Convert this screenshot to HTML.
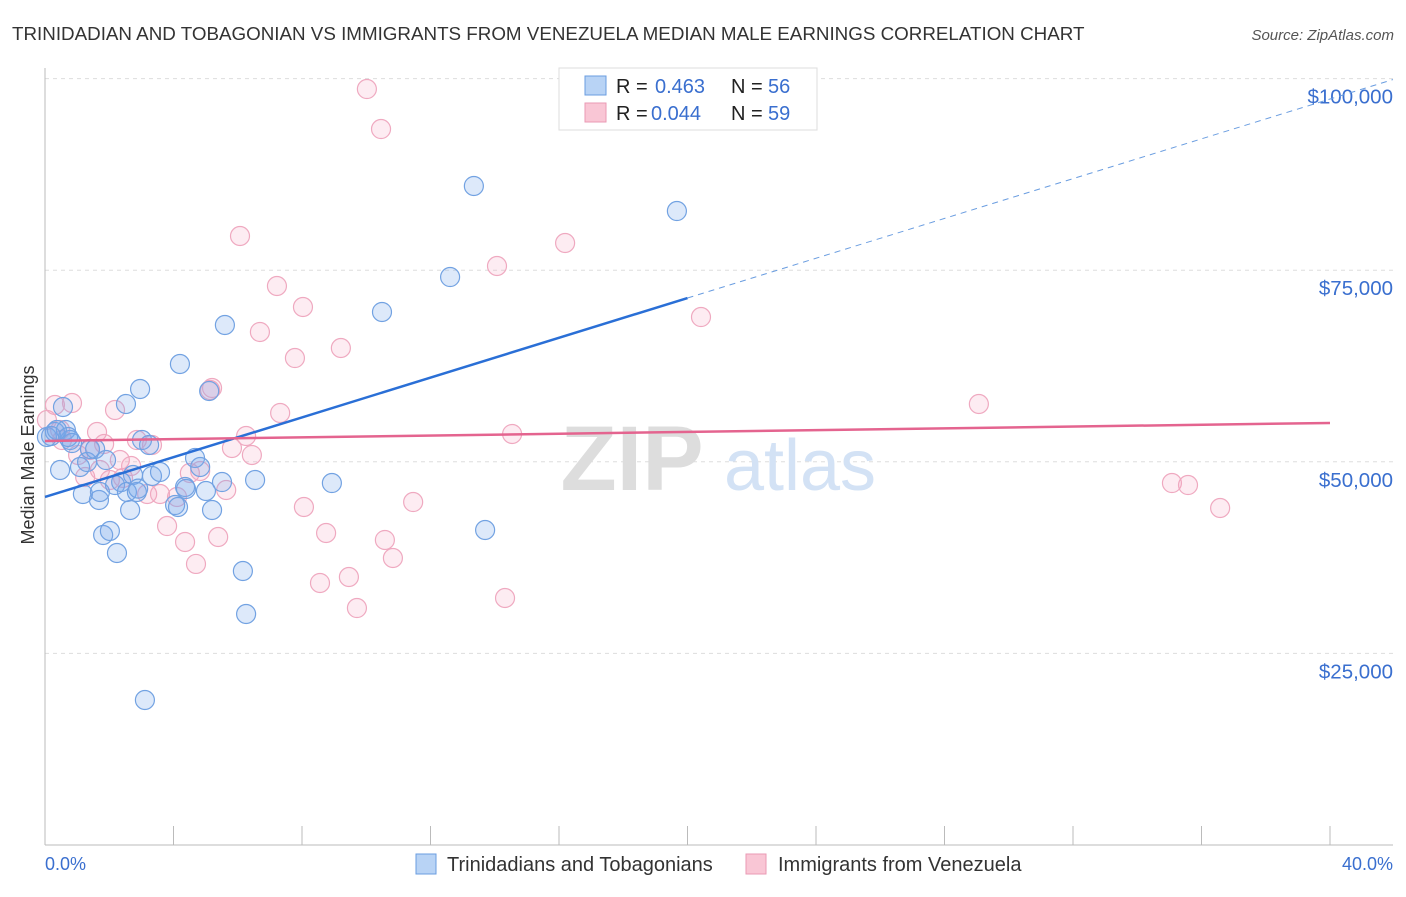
<!DOCTYPE html>
<html><head><meta charset="utf-8"><style>
body{margin:0;background:#fff;font-family:"Liberation Sans",sans-serif;}
svg text{font-family:"Liberation Sans",sans-serif;}
</style></head><body>
<svg id="chart" width="1406" height="892" viewBox="0 0 1406 892" xmlns="http://www.w3.org/2000/svg">
<text x="12" y="40" font-size="18.8" fill="#333">TRINIDADIAN AND TOBAGONIAN VS IMMIGRANTS FROM VENEZUELA MEDIAN MALE EARNINGS CORRELATION CHART</text>
<text x="1394" y="40" font-size="15" fill="#555" font-style="italic" text-anchor="end">Source: ZipAtlas.com</text>
<g id="grid"></g>
<g>
<text x="632" y="490" font-size="92" fill="#ddd" font-family="Liberation Serif" text-anchor="middle" font-weight="bold">ZIP</text>
<text x="800" y="490" font-size="72" fill="#d3e2f5" text-anchor="middle">atlas</text>
</g>
<line x1="45" y1="68" x2="45" y2="845" stroke="#bbb" stroke-width="1"/>
<line x1="45" y1="845" x2="1393" y2="845" stroke="#bbb" stroke-width="1"/>
<g id="xticks"></g>
<g id="ylabels"></g>
<text transform="translate(34,455) rotate(-90)" font-size="18" fill="#333" text-anchor="middle">Median Male Earnings</text>
<text x="45" y="870" font-size="18" fill="#3a6fcf">0.0%</text>
<text x="1393" y="870" font-size="18" fill="#3a6fcf" text-anchor="end">40.0%</text>
<g id="pink"></g>
<g id="blue"></g>
<g id="trends"></g>
<g>
<rect x="559" y="68" width="258" height="62" fill="#fff" stroke="#ddd"/>
<rect x="585" y="76" width="21" height="19" fill="#b8d3f5" stroke="#6a9de0"/>
<rect x="585" y="103" width="21" height="19" fill="#f9c6d5" stroke="#ea9ab4"/>
<text x="616" y="93" font-size="20" fill="#222">R = </text><text x="655" y="93" font-size="20" fill="#3a6fcf">0.463</text>
<text x="731" y="93" font-size="20" fill="#222">N = </text><text x="768" y="93" font-size="20" fill="#3a6fcf">56</text>
<text x="616" y="120" font-size="20" fill="#222">R = </text><text x="651" y="120" font-size="20" fill="#3a6fcf">0.044</text>
<text x="731" y="120" font-size="20" fill="#222">N = </text><text x="768" y="120" font-size="20" fill="#3a6fcf">59</text>
</g>
<g>
<rect x="416" y="854" width="20" height="20" fill="#b8d3f5" stroke="#6a9de0"/>
<text x="447" y="871" font-size="20" fill="#333">Trinidadians and Tobagonians</text>
<rect x="746" y="854" width="20" height="20" fill="#f9c6d5" stroke="#ea9ab4"/>
<text x="778" y="871" font-size="20" fill="#333">Immigrants from Venezuela</text>
</g>
</svg>
<script>
const yTicks=[25000,50000,75000,100000];
const yTickLabels=["$25,000","$50,000","$75,000","$100,000"];
const blueX=[0.06,0.31,0.47,0.56,0.65,0.78,0.84,1.09,1.18,1.31,1.40,1.56,1.68,1.71,1.81,1.90,2.02,2.18,2.24,2.37,2.52,2.55,2.65,2.74,2.86,2.96,3.02,3.11,3.24,3.33,3.58,4.05,4.14,4.20,4.36,4.39,4.67,4.83,5.01,5.11,5.20,5.51,5.60,6.16,6.26,6.54,8.93,10.49,12.61,13.35,13.70,19.67,0.19,0.37,0.72,2.9];
const blueY=[53240,53890,48930,57150,54150,52840,52450,49320,45800,49970,51670,51670,45020,46060,40450,50230,40970,46970,38100,47360,57540,46060,43710,48280,46060,59500,52840,18920,52190,48150,48670,44360,44100,62760,46710,46450,50500,49320,46190,59240,43710,47360,67850,35750,30140,47630,47230,69550,74110,85990,41100,82720,53370,54150,53240,46500];
const pinkX=[0.06,0.31,0.53,0.84,1.03,1.25,1.40,1.62,1.71,1.84,2.02,2.18,2.33,2.43,2.68,2.86,3.18,3.33,3.58,3.80,4.11,4.36,4.51,4.70,4.83,5.14,5.20,5.39,5.64,5.82,6.07,6.26,6.44,6.69,7.22,7.32,7.78,8.03,8.06,8.75,8.56,9.21,9.46,9.71,10.02,10.46,10.58,10.83,11.46,14.07,14.32,14.54,16.19,20.42,29.07,35.08,35.58,36.58,0.47];
const pinkY=[55450,57410,52840,57670,50890,48020,51540,53890,48930,52320,47630,56760,50230,47890,49450,52840,45800,52190,45800,41620,45410,39540,48540,36670,48800,59370,59630,40190,46320,51800,79460,53370,50890,66940,72940,56370,63540,70200,44100,40710,34190,64850,34970,30920,98640,93420,39800,37450,44750,75550,32230,53630,78550,68890,57540,47230,46970,43970,54150];
const blueTrend=[45410,1298];
const pinkTrend=[52720,58.75];
const sx=v=>45+v*32.125;
const sy=v=>845-v/130.48;
const NS="http://www.w3.org/2000/svg";
function mk(tag,attrs,parent){const e=document.createElementNS(NS,tag);for(const k in attrs)e.setAttribute(k,attrs[k]);document.getElementById(parent).appendChild(e);return e;}
yTicks.forEach((t,i)=>{
 const l=mk('line',{x1:45,x2:1393,y1:sy(t),y2:sy(t),stroke:'#ddd','stroke-dasharray':'4,4'},'grid');
 
 
 const tx=mk('text',{x:1393,y:sy(t)+25,'font-size':20.5,fill:'#3a6fcf','text-anchor':'end'},'ylabels');
 tx.textContent=yTickLabels[i];
 
 
});
for(let i=0;i<=10;i++){
 const l=mk('line',{x1:sx(i*4),x2:sx(i*4),y1:826,y2:845,stroke:'#bbb'},'xticks');
 
 
}
pinkX.forEach((x,i)=>{
 const c=mk('circle',{cx:sx(x),cy:sy(pinkY[i]),r:9.5,fill:'rgba(244,160,188,0.2)',stroke:'#efa9c0','stroke-width':1.2},'pink');
 
 
});
blueX.forEach((x,i)=>{
 const c=mk('circle',{cx:sx(x),cy:sy(blueY[i]),r:9.5,fill:'rgba(120,168,235,0.25)',stroke:'#72a2e2','stroke-width':1.2},'blue');
 
 
});
const bf=x=>blueTrend[0]+blueTrend[1]*x, pf=x=>pinkTrend[0]+pinkTrend[1]*x;
let l1=mk('line',{x1:sx(0),y1:sy(bf(0)),x2:sx(20),y2:sy(bf(20)),stroke:'#2a6fd6','stroke-width':2.5},'trends');


let l2=mk('line',{x1:sx(20),y1:sy(bf(20)),x2:sx(41.96),y2:sy(bf(41.96)),stroke:'#6a9de0','stroke-width':1,'stroke-dasharray':'6,5'},'trends');


let l3=mk('line',{x1:sx(0),y1:sy(pf(0)),x2:sx(40),y2:sy(pf(40)),stroke:'#e4648f','stroke-width':2.5},'trends');


</script>
</body></html>
